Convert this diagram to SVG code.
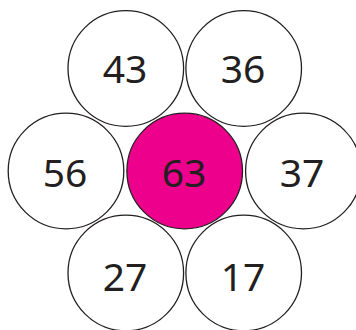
<svg xmlns="http://www.w3.org/2000/svg" width="356" height="330" viewBox="0 0 356 330">
<style>
.c{fill:#fff;stroke:#231f20;stroke-width:1.3}
.m{fill:#ec008c}
text{font-family:"Noto Sans","Open Sans",sans-serif;font-size:39px;fill:#231f20;text-anchor:middle}
</style>
<rect width="356" height="330" fill="#fff"/>
<g id="n43"><circle class="c" cx="125.8" cy="68.5" r="57.8"/><text x="125" y="83">43</text></g>
<g id="n36"><circle class="c" cx="243.7" cy="68.5" r="57.8"/><text x="243" y="83">36</text></g>
<g id="n56"><circle class="c" cx="66" cy="171" r="57.8"/><text x="65" y="187">56</text></g>
<g id="n63"><circle class="c m" cx="184.7" cy="171" r="57.8"/><text x="184" y="187">63</text></g>
<g id="n37"><circle class="c" cx="303.4" cy="171" r="57.8"/><text x="302" y="187">37</text></g>
<g id="n27"><circle class="c" cx="125.8" cy="273" r="57.8"/><text x="125" y="291">27</text></g>
<g id="n17"><circle class="c" cx="243.7" cy="273" r="57.8"/><text x="243" y="291">17</text></g>
<g id="connectors"/>
</svg>
